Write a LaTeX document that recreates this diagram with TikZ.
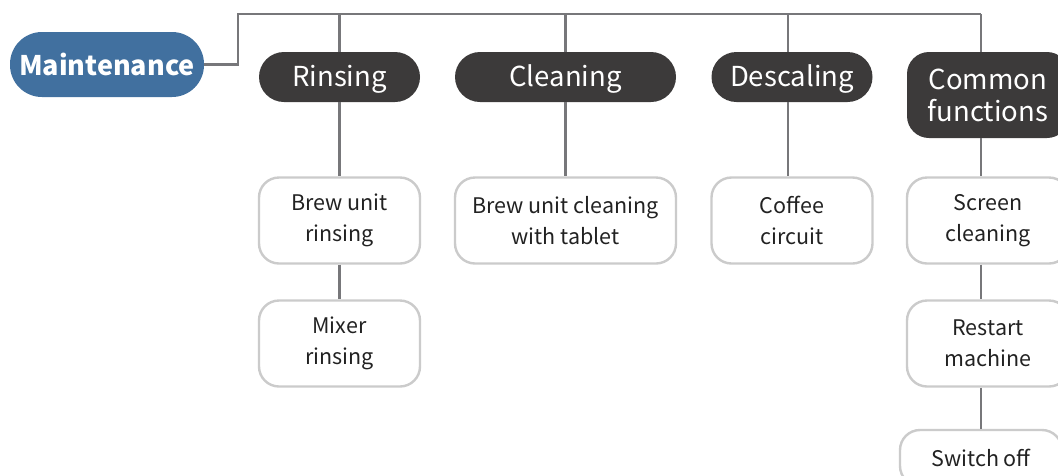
\documentclass[tikz,border=0pt]{standalone}
\usepackage{fontspec}
\setmainfont{Noto Sans CJK SC}
\definecolor{mblue}{HTML}{41709F}
\definecolor{mdark}{HTML}{3C3A3A}
\definecolor{mline}{HTML}{77777A}
\definecolor{mborder}{HTML}{CBCBCB}
\definecolor{mtext}{HTML}{222222}
\begin{document}
\begin{tikzpicture}[x=1pt,y=-1pt,
  rootbox/.style={fill=mblue,text=white,rounded corners=32pt,minimum width=194pt,minimum height=65pt,inner sep=0pt,text height=22pt,text depth=0pt,font=\fontsize{27}{32}\selectfont\bfseries},
  topicbox/.style={fill=mdark,text=white,rounded corners=25pt,minimum height=50pt,inner sep=0pt,align=center,font=\fontsize{27.5}{32}\selectfont},
  leafbox/.style={draw=mborder,line width=2.4pt,fill=white,text=mtext,rounded corners=20pt,minimum height=86pt,inner sep=0pt,align=center,font=\fontsize{21.5}{31.5}\selectfont},
  link/.style={draw=mline,line width=2.5pt}]
\useasboundingbox (0,0) rectangle (1058,475);
\begin{scope}
\clip (0,0) rectangle (1058,475);
% root
\node[rootbox] (root) at (107,64.5) {Maintenance};
% topics
\node[topicbox,minimum width=161pt,text height=18.5pt,text depth=0pt] (rin) at (339.5,77) {Rinsing};
\node[topicbox,minimum width=221pt,text height=18.5pt,text depth=0pt] (cle) at (565.5,77) {Cleaning};
\node[topicbox,minimum width=161pt,text height=18.5pt,text depth=0pt] (des) at (792,77) {Descaling};
\node[topicbox,minimum width=162pt,minimum height=86pt,rounded corners=22pt] (com) at (988,95) {Common\\functions};
% leaves
\node[leafbox,minimum width=161pt] (bur) at (339.5,220.5) {Brew unit\\rinsing};
\node[leafbox,minimum width=161pt] (mix) at (339.5,343.5) {Mixer\\rinsing};
\node[leafbox,minimum width=221pt] (buc) at (565.5,220.5) {Brew unit cleaning\\with tablet};
\node[leafbox,minimum width=161pt] (cof) at (792,220.5) {Coffee\\circuit};
\node[leafbox,minimum width=162pt] (scr) at (988,220.5) {Screen\\cleaning};
\node[leafbox,minimum width=162pt] (res) at (988,343.5) {Restart\\machine};
\node[leafbox,minimum width=162pt,minimum height=56pt] (swi) at (981,458) {Switch off};
\coordinate (bend) at (238,14);
\coordinate (busend) at (981,14);
\end{scope}
\begin{scope}
\clip (0,0) rectangle (1058,475);
\draw[link] (root.east) -| (bend) -- (busend);
\draw[link] (bend -| rin.north) -- (rin.north);
\draw[link] (bend -| cle.north) -- (cle.north);
\draw[link] ([xshift=-4pt]des.north |- bend) -- ([xshift=-4pt]des.north);
\draw[link] (busend) -- (busend |- com.north);
\draw[link] (rin.south) -- (bur.north);
\draw[link] (bur.south) -- (mix.north);
\draw[link] (cle.south) -- (buc.north);
\draw[link] ([xshift=-4pt]des.south) -- ([xshift=-4pt]cof.north);
\draw[link] (busend |- com.south) -- (busend |- scr.north);
\draw[link] (busend |- scr.south) -- (busend |- res.north);
\draw[link] (busend |- res.south) -- (busend |- swi.north);
\end{scope}
\end{tikzpicture}
\end{document}
